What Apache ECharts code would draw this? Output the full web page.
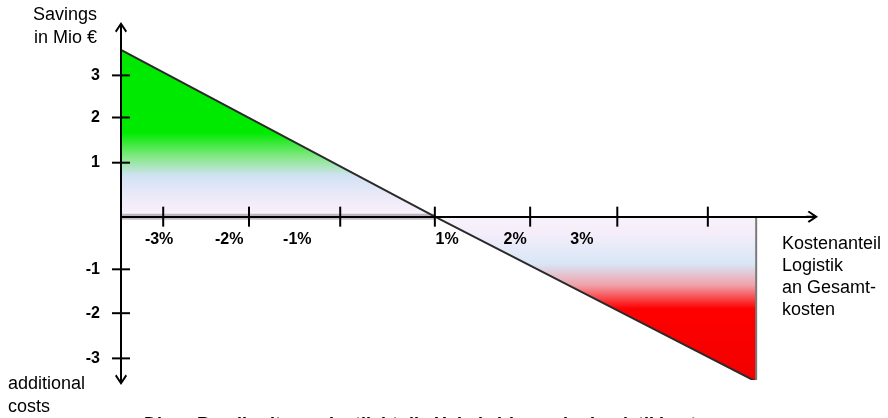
<!DOCTYPE html>
<html>
<head>
<meta charset="utf-8">
<title>Savings vs. Kostenanteil Logistik</title>
<script src="https://cdn.jsdelivr.net/npm/echarts@6/dist/echarts.min.js"></script>
<style>
    html, body {margin: 0; padding: 0; background: #fff;}
    #chart {width: 888px; height: 418px;}
</style>
</head>
<body>
<div id="chart"></div>
<script>
    // values (schematic, axis units)
    const lineX = [-3.7, 0.91, 5.63];
    const lineY = [3.80, 0, -3.76];
    const edgeX = [5.63, 5.63];
    const edgeY = [0, -3.76];
    const bevelX = [-3.7, 0.91];
    const bevelY = [0, 0];

    const xTickValues = [-3.08, -1.82, -0.48, 0.91, 2.31, 3.59, 4.92];
    const xLabelValues = [-3.14, -2.11, -1.11, 1.09, 2.09, 3.07];
    const yTickValues = [3.22, 2.26, 1.23, -1.2, -2.2, -3.23];

    const xMin = -3.7, xMax = 6.45;
    const yMin = -3.7, yMax = 4.3;

    const gridTop = 28, gridBottom = 39, chartH = 418;
    // move the x axis up from the grid bottom to y = 0
    const zeroOffset = -((chartH - gridBottom - gridTop) * (0 - yMin) / (yMax - yMin));

    const font = "'Liberation Sans', Arial, sans-serif";
    const arrow = 'path://M6,0 L12,9 L10.6,10.4 L7,5 L7,12 L5,12 L5,5 L1.4,10.4 L0,9 Z';

    const fill = new echarts.graphic.LinearGradient(0, 0, 0, 1, [
        {offset: 0, color: '#00e800'},
        {offset: 0.25, color: '#00ea00'},
        {offset: 0.32, color: '#80e880'},
        {offset: 0.38, color: '#d2e2f5'},
        {offset: 0.46, color: '#f2ecf9'},
        {offset: 0.50, color: '#f8f2fb'},
        {offset: 0.55, color: '#f5eefa'},
        {offset: 0.645, color: '#d8e6f6'},
        {offset: 0.71, color: '#f0a0a8'},
        {offset: 0.78, color: '#ff0000'},
        {offset: 1, color: '#f20000'}
    ]);

    const chart = echarts.init(document.getElementById('chart'));

    const option = {
        animation: false,
        grid: {left: 121, right: 76, top: gridTop, bottom: gridBottom, containLabel: false, outerBoundsMode: 'none'},
        xAxis: {
            type: 'value',
            min: xMin,
            max: xMax,
            offset: zeroOffset,
            z: 10,
            splitLine: {show: false},
            axisTick: {show: false},
            axisLine: {
                onZero: false,
                symbol: ['none', arrow],
                symbolSize: [12, 12],
                lineStyle: {color: '#000', width: 2}
            },
            axisLabel: {
                customValues: xLabelValues,
                formatter: (v) => Math.round(v) + '%',
                margin: 15,
                hideOverlap: false,
                color: '#000',
                fontWeight: 'bold',
                fontSize: 16,
                fontFamily: font
            }
        },
        yAxis: {
            type: 'value',
            min: yMin,
            max: yMax,
            z: 10,
            splitLine: {show: false},
            axisTick: {show: false},
            axisLine: {
                onZero: false,
                symbol: [arrow, arrow],
                symbolSize: [12, 12],
                lineStyle: {color: '#000', width: 2}
            },
            axisLabel: {
                customValues: yTickValues,
                formatter: (v) => String(Math.round(v)),
                margin: 21,
                color: '#000',
                fontWeight: 'bold',
                fontSize: 16,
                fontFamily: font
            }
        },
        graphic: [
            {type: 'text', x: 97, y: 4, style: {text: 'Savings\nin Mio €', align: 'right', font: '18px ' + font, lineHeight: 23, fill: '#000'}},
            {type: 'text', x: 8, y: 373, style: {text: 'additional\ncosts', font: '18px ' + font, lineHeight: 23, fill: '#000'}},
            {type: 'text', x: 782, y: 233, style: {text: 'Kostenanteil\nLogistik\nan Gesamt-\nkosten', font: '18px ' + font, lineHeight: 22, fill: '#000'}},
            {type: 'text', x: 144, y: 416, style: {text: 'Diese Bandbreite verdeutlicht die Hebelwirkung der Logistikkosten', verticalAlign: 'top', font: 'bold 18px ' + font, fill: '#000'}}
        ],
        series: [
            {
                name: 'Savings',
                type: 'line',
                data: lineX.map((x, i) => [x, lineY[i]]),
                symbol: 'none',
                silent: true,
                lineStyle: {color: '#2a2a2a', width: 2},
                areaStyle: {color: fill, opacity: 1},
                z: 2
            },
            {
                name: 'bevel',
                type: 'line',
                data: bevelX.map((x, i) => [x, bevelY[i]]),
                symbol: 'none',
                silent: true,
                lineStyle: {color: 'rgba(60,40,60,0.3)', width: 6},
                z: 3
            },
            {
                name: 'edge',
                type: 'line',
                data: edgeX.map((x, i) => [x, edgeY[i]]),
                symbol: 'none',
                silent: true,
                lineStyle: {color: '#7a7a7a', width: 2},
                z: 3
            },
            {
                name: 'xTicks',
                type: 'custom',
                silent: true,
                data: xTickValues.map(v => [v, 0]),
                renderItem: (params, api) => {
                    const p = api.coord([api.value(0), 0]);
                    return {
                        type: 'line',
                        shape: {x1: p[0], y1: p[1] - 10, x2: p[0], y2: p[1] + 10},
                        style: {stroke: '#000', lineWidth: 2}
                    };
                },
                z: 11
            },
            {
                name: 'yTicks',
                type: 'custom',
                silent: true,
                data: yTickValues.map(v => [xMin, v]),
                renderItem: (params, api) => {
                    const p = api.coord([xMin, api.value(1)]);
                    return {
                        type: 'line',
                        shape: {x1: p[0] - 9, y1: p[1], x2: p[0] + 9, y2: p[1]},
                        style: {stroke: '#000', lineWidth: 2}
                    };
                },
                z: 11
            }
        ]
    };

    chart.setOption(option);
</script>
</body>
</html>
